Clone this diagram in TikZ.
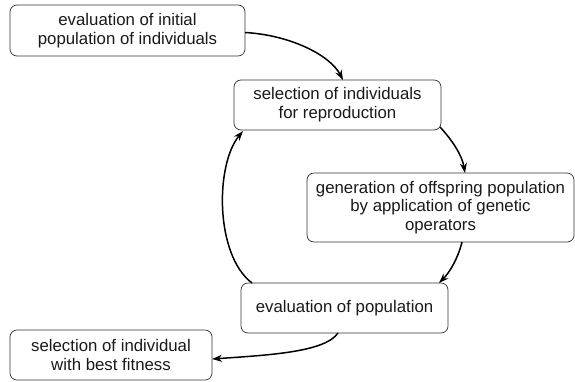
\documentclass[tikz,border=0pt]{standalone}
\usepackage{fontspec}
\setmainfont{Liberation Sans}
\usetikzlibrary{arrows.meta}
\begin{document}
\begin{tikzpicture}[x=1pt,y=-1pt,
  box/.style={draw=black!80, line width=0.7pt, rounded corners=7pt, align=center,
    inner sep=0pt, outer sep=0pt, text=black!90,
    font=\fontsize{16.8}{18.7}\selectfont},
  conn/.style={line width=1.5pt, -{Stealth[length=10pt,width=7pt]}}]
\useasboundingbox (0,0) rectangle (575,381);
\node[box, minimum width=235pt, minimum height=51pt] (b1) at (127.5,30.5) {evaluation of initial\\population of individuals};
\node[box, minimum width=207pt, minimum height=50pt] (b2) at (337.5,105) {selection of individuals\\for reproduction};
\node[box, minimum width=267pt, minimum height=69pt] (b3) at (440.5,207.5) {generation of offspring population\\by application of genetic\\operators};
\node[box, minimum width=207pt, minimum height=50pt] (b4) at (344.5,308) {evaluation of population};
\node[box, minimum width=202pt, minimum height=50pt] (b5) at (111,355) {selection of individual\\with best fitness};
\draw[conn] ([yshift=-2pt]b1.east) .. controls (290,35) and (330,55) .. ([xshift=5.5pt]b2.north);
\draw[conn] ([xshift=-1pt,yshift=3pt]b2.south east) .. controls (452,140) and (462,155) .. ([xshift=24.5pt]b3.north);
\draw[conn] ([xshift=21.5pt]b3.south) .. controls (458,258) and (450,272) .. ([xshift=-9pt]b4.north east);
\draw[conn] ([xshift=11pt]b4.north west) .. controls (215,255) and (215,165) .. ([xshift=9pt,yshift=-1pt]b2.south west);
\draw[conn] ([xshift=-6.5pt]b4.south) .. controls (325,352) and (270,355) .. ([yshift=-4pt]b5.east);
\end{tikzpicture}
\end{document}
